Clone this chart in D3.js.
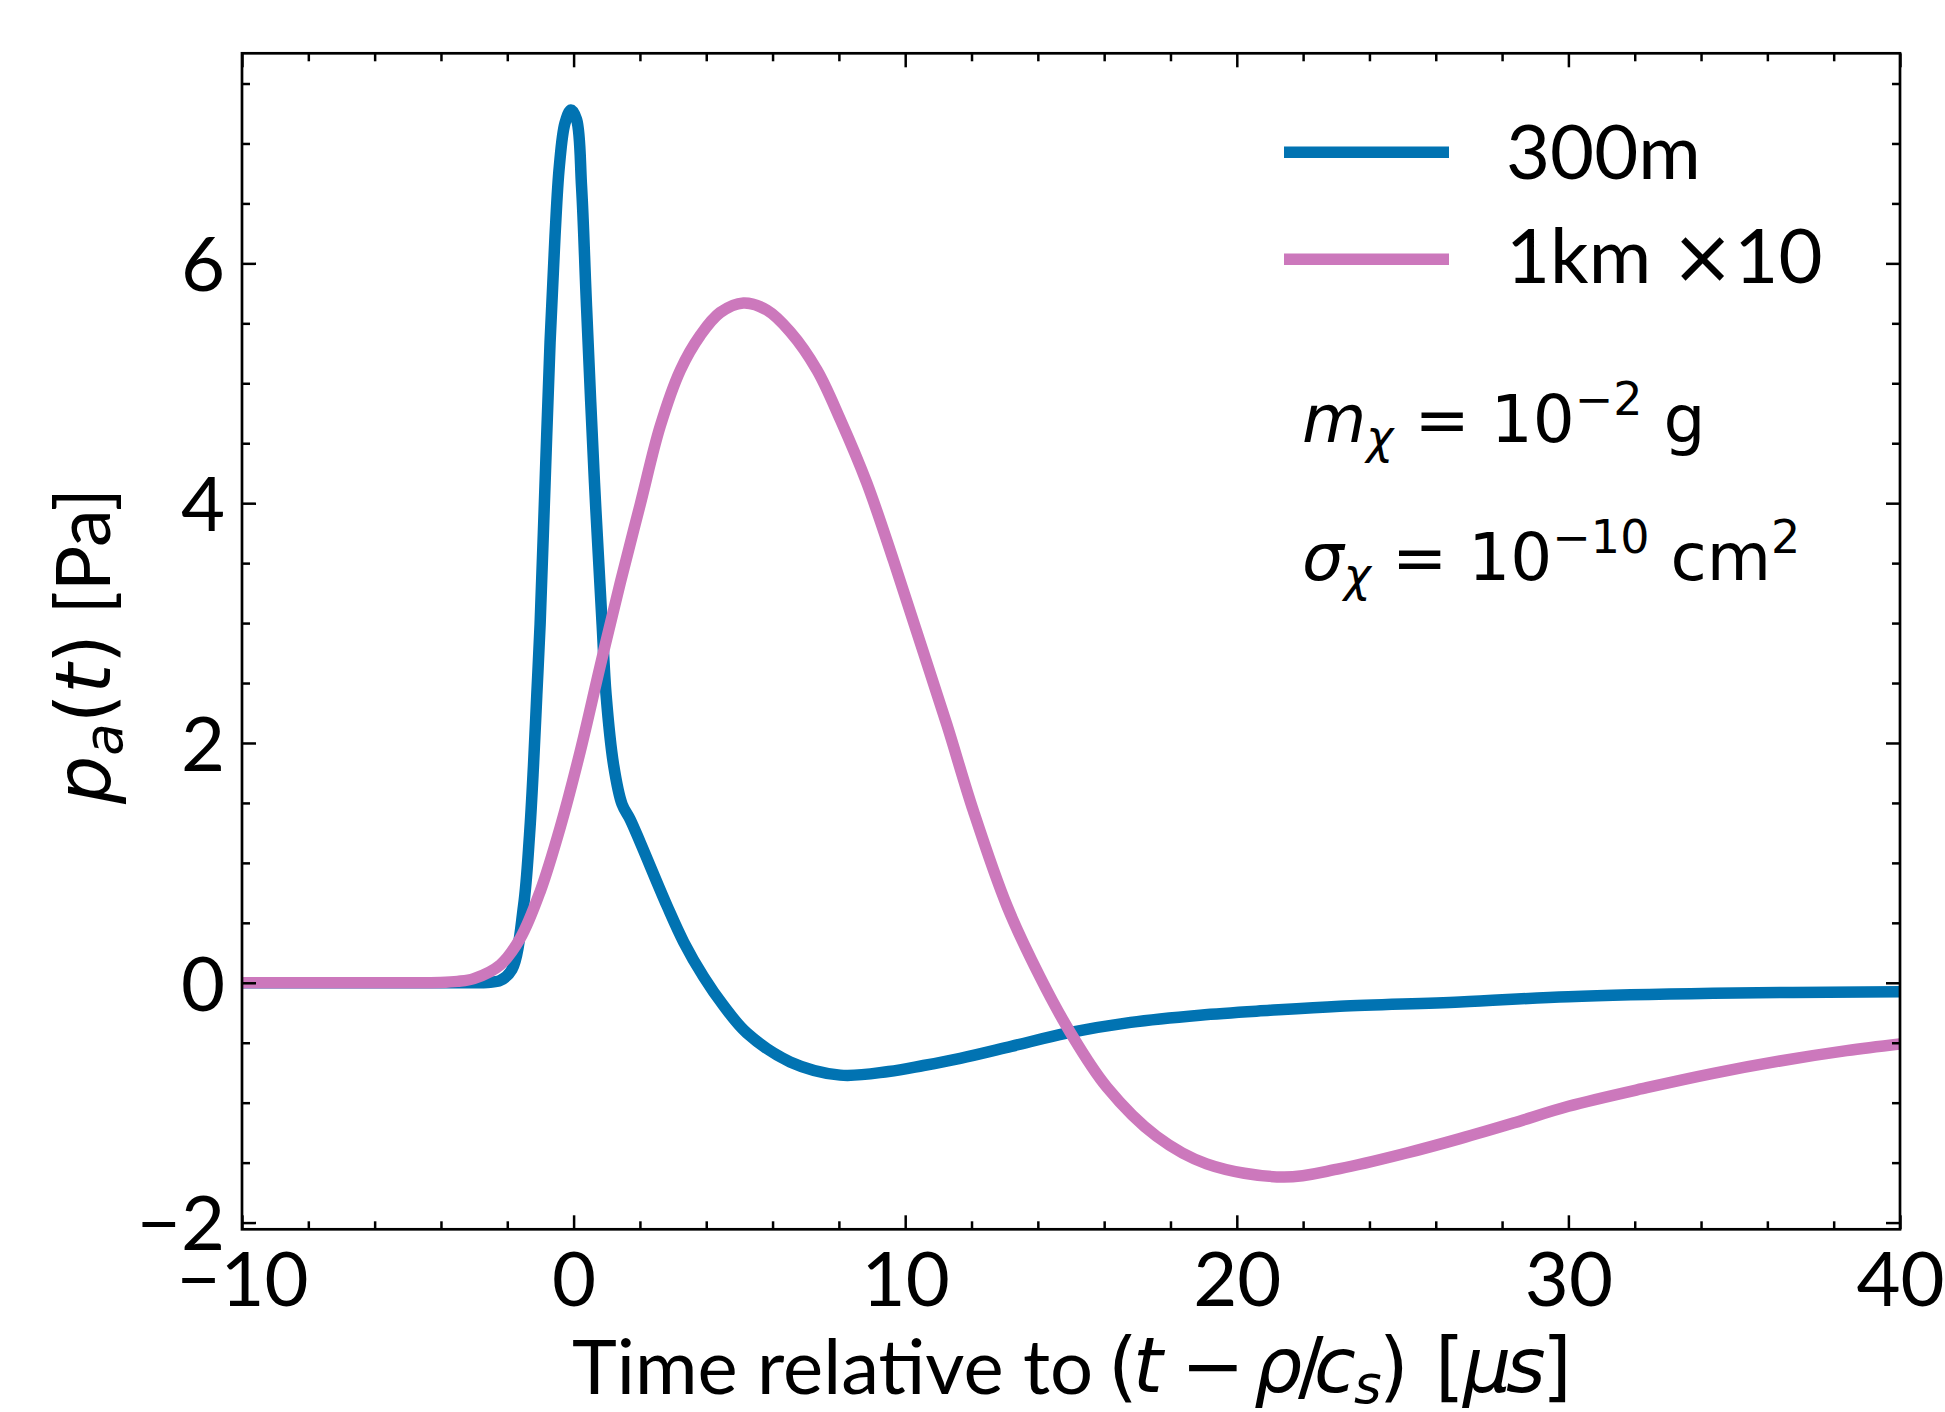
<!DOCTYPE html>
<html>
<head>
<meta charset="utf-8">
<script src="https://cdn.jsdelivr.net/npm/d3@7"></script>
<style>
  html, body { margin: 0; padding: 0; background: #fff; }
  svg { display: block; }
</style>
</head>
<body>
<svg id="chart" width="1945" height="1412"></svg>
<script>
// ---------------- data ----------------
const seriesNames = ["300m", "1km ×10"];
const time300 = [-10, -7, -5, -4, -3, -2.6, -2.21, -1.86, -1.51, -1.33, -1.21, -1.11, -1.01, -0.86, -0.71, -0.56, -0.43, -0.26, -0.08, 0.09, 0.24, 0.39, 0.63, 0.86, 0.98, 1.21, 1.46, 1.71, 2.01, 2.82, 3.32, 3.92, 4.52, 5.23, 6.53, 8.04, 9.5, 10.55, 11.66, 13.2, 14.87, 16.8, 18.89, 21.0, 23.11, 26.73, 30, 34.37, 40];
const value300 = [0, 0, 0, 0, 0, 0.003, 0.02, 0.11, 0.64, 1.23, 1.81, 2.40, 2.99, 4.17, 5.34, 6.23, 6.81, 7.17, 7.28, 7.20, 6.64, 5.64, 4.17, 2.99, 2.40, 1.81, 1.49, 1.36, 1.17, 0.64, 0.34, 0.05, -0.19, -0.42, -0.66, -0.77, -0.74, -0.69, -0.63, -0.53, -0.42, -0.33, -0.27, -0.23, -0.196, -0.16, -0.116, -0.088, -0.074];
const time1km = [-10, -7, -5, -4.02, -3.5, -3.01, -2.21, -1.61, -1.01, -0.41, 0.20, 0.80, 1.41, 2.01, 2.61, 3.22, 3.82, 4.42, 5.12, 5.83, 6.53, 7.34, 8.04, 8.84, 9.65, 10.45, 11.26, 12.06, 13.07, 14.07, 14.97, 16.08, 17.58, 19.09, 21.4, 23.11, 25.12, 26.73, 28.34, 30, 32.36, 34.37, 36.38, 38.39, 40];
const value1km = [0, 0, 0, 0.003, 0.012, 0.035, 0.15, 0.37, 0.76, 1.29, 1.93, 2.64, 3.34, 3.99, 4.64, 5.11, 5.40, 5.59, 5.67, 5.61, 5.43, 5.11, 4.70, 4.17, 3.52, 2.84, 2.15, 1.43, 0.64, 0.046, -0.41, -0.87, -1.28, -1.51, -1.62, -1.55, -1.42, -1.30, -1.17, -1.03, -0.875, -0.755, -0.652, -0.566, -0.51];
const xMajorTicks = [-10, 0, 10, 20, 30, 40];
const xMinorTicks = [-8, -6, -4, -2, 2, 4, 6, 8, 12, 14, 16, 18, 22, 24, 26, 28, 32, 34, 36, 38];
const yMajorTicks = [-2, 0, 2, 4, 6];
const yMinorTicks = [-1.5, -1, -0.5, 0.5, 1, 1.5, 2.5, 3, 3.5, 4.5, 5, 5.5, 6.5, 7, 7.5];
const colors = ["#0173b2", "#cc78bc"];

// ---------------- layout ----------------
const W = 1945, H = 1412;
const L = 242, R = 1900, T = 53.3, B = 1229.3;
const svg = d3.select("#chart");
svg.append("rect").attr("width", W).attr("height", H).attr("fill", "#fff");

const x = d3.scaleLinear().domain([-10, 40]).range([L, R]);
const y = d3.scaleLinear().domain([-2.056, 7.752]).range([B, T]);

const LATO = "Lato, 'Noto Sans', sans-serif";
const DJV = "'DejaVu Sans', sans-serif";
const FS = 76;

// ---------------- lines ----------------
svg.append("clipPath").attr("id", "clip")
  .append("rect").attr("x", L).attr("y", T).attr("width", R - L).attr("height", B - T);

const line = d3.line().x(d => x(d[0])).y(d => y(d[1])).curve(d3.curveCatmullRom.alpha(0.5));
const series = [
  d3.zip(time300, value300),
  d3.zip(time1km, value1km)
];
const gLines = svg.append("g").attr("clip-path", "url(#clip)");
series.forEach((s, i) => {
  gLines.append("path").datum(s)
    .attr("d", line)
    .attr("fill", "none")
    .attr("stroke", colors[i])
    .attr("stroke-width", 11.5)
    .attr("stroke-linejoin", "round");
});

// ---------------- axes ----------------
function styleAxis(g) {
  g.select(".domain").remove();
  g.selectAll(".tick line").attr("stroke", "#000").attr("stroke-width", 2.5);
}
// bottom
svg.append("g").attr("transform", `translate(0,${B})`)
  .call(d3.axisBottom(x).tickValues(xMajorTicks).tickSize(-14).tickPadding(23))
  .call(styleAxis)
  .call(g => g.selectAll("text").attr("font-family", LATO).attr("font-size", FS).attr("fill", "#000"));
svg.append("g").attr("transform", `translate(0,${B})`)
  .call(d3.axisBottom(x).tickValues(xMinorTicks).tickSize(-8).tickFormat(""))
  .call(styleAxis);
// top
svg.append("g").attr("transform", `translate(0,${T})`)
  .call(d3.axisTop(x).tickValues(xMajorTicks).tickSize(-14).tickFormat(""))
  .call(styleAxis);
svg.append("g").attr("transform", `translate(0,${T})`)
  .call(d3.axisTop(x).tickValues(xMinorTicks).tickSize(-8).tickFormat(""))
  .call(styleAxis);
// left
svg.append("g").attr("transform", `translate(${L},0)`)
  .call(d3.axisLeft(y).tickValues(yMajorTicks).tickSize(-14).tickPadding(17))
  .call(styleAxis)
  .call(g => g.selectAll("text").attr("font-family", LATO).attr("font-size", FS).attr("fill", "#000").attr("dy", "0.36em"));
svg.append("g").attr("transform", `translate(${L},0)`)
  .call(d3.axisLeft(y).tickValues(yMinorTicks).tickSize(-8).tickFormat(""))
  .call(styleAxis);
// right
svg.append("g").attr("transform", `translate(${R},0)`)
  .call(d3.axisRight(y).tickValues(yMajorTicks).tickSize(-14).tickFormat(""))
  .call(styleAxis);
svg.append("g").attr("transform", `translate(${R},0)`)
  .call(d3.axisRight(y).tickValues(yMinorTicks).tickSize(-8).tickFormat(""))
  .call(styleAxis);

// frame
svg.append("rect").attr("x", L).attr("y", T).attr("width", R - L).attr("height", B - T)
  .attr("fill", "none").attr("stroke", "#000").attr("stroke-width", 2.7);

// ---------------- axis labels ----------------
const xlY = 1394;
const xl = svg.append("text").attr("y", xlY).attr("font-size", FS).attr("fill", "#000");
xl.append("tspan").attr("x", 572).attr("font-family", LATO).text("Time relative to");
const mathParts = [
  { t: "(", x: 1108, it: false },
  { t: "t", x: 1133, it: true },
  { t: "−", x: 1181, it: false },
  { t: "ρ", x: 1254, it: true },
  { t: "/", x: 1298, it: false },
  { t: "c", x: 1314, it: true },
  { t: "s", x: 1354, it: true, sub: true },
  { t: ")", x: 1379, it: false },
  { t: "[", x: 1435, it: false },
  { t: "μ", x: 1463, it: true },
  { t: "s", x: 1506, it: true },
  { t: "]", x: 1542, it: false }
];
mathParts.forEach(p => {
  svg.append("text")
    .attr("x", p.x).attr("y", p.sub ? xlY + 9 : xlY - 2)
    .attr("font-family", DJV)
    .attr("font-style", p.it ? "italic" : "normal")
    .attr("font-size", p.sub ? 53 : FS)
    .attr("fill", "#000")
    .text(p.t);
});

const yl = svg.append("text").attr("transform", "translate(110,646) rotate(-90)")
  .attr("text-anchor", "middle").attr("font-size", FS).attr("fill", "#000");
yl.append("tspan").attr("font-family", DJV).attr("font-style", "italic").text("p");
yl.append("tspan").attr("font-family", DJV).attr("font-style", "italic").attr("font-size", 53).attr("dy", 12).text("a");
yl.append("tspan").attr("font-family", DJV).attr("dy", -12).text("(");
yl.append("tspan").attr("font-family", DJV).attr("font-style", "italic").text("t");
yl.append("tspan").attr("font-family", DJV).text(")");
yl.append("tspan").attr("font-family", LATO).text(" [Pa]");

// ---------------- legend ----------------
const legendY = [152.3, 259.3];
const legendTextY = [179.3, 283.3];
seriesNames.forEach((name, i) => {
  svg.append("line").attr("x1", 1284).attr("x2", 1449).attr("y1", legendY[i]).attr("y2", legendY[i])
    .attr("stroke", colors[i]).attr("stroke-width", 11.5);
});
svg.append("text").attr("x", 1506).attr("y", legendTextY[0]).attr("font-family", LATO)
  .attr("font-size", FS).attr("fill", "#000").text(seriesNames[0]);
const lt2 = svg.append("text").attr("x", 1506).attr("y", legendTextY[1]).attr("font-size", FS).attr("fill", "#000");
lt2.append("tspan").attr("font-family", LATO).text("1km ");
lt2.append("tspan").attr("font-family", DJV).text("×");
lt2.append("tspan").attr("font-family", LATO).text("10");

// ---------------- annotation ----------------
const a1 = svg.append("text").attr("x", 1302).attr("y", 441.7).attr("font-family", DJV).attr("font-size", 66).attr("fill", "#000");
a1.append("tspan").attr("font-style", "italic").text("m");
a1.append("tspan").attr("font-style", "italic").attr("font-size", 46).attr("dy", 11).text("χ");
a1.append("tspan").attr("dy", -11).text(" = 10");
a1.append("tspan").attr("font-size", 46).attr("dy", -27).text("−2");
a1.append("tspan").attr("dy", 27).text(" g");

const a2 = svg.append("text").attr("x", 1302).attr("y", 580).attr("font-family", DJV).attr("font-size", 66).attr("fill", "#000");
a2.append("tspan").attr("font-style", "italic").text("σ");
a2.append("tspan").attr("font-style", "italic").attr("font-size", 46).attr("dy", 11).text("χ");
a2.append("tspan").attr("dy", -11).text(" = 10");
a2.append("tspan").attr("font-size", 46).attr("dy", -27).text("−10");
a2.append("tspan").attr("dy", 27).text(" cm");
a2.append("tspan").attr("font-size", 46).attr("dy", -27).text("2");
</script>
</body>
</html>
